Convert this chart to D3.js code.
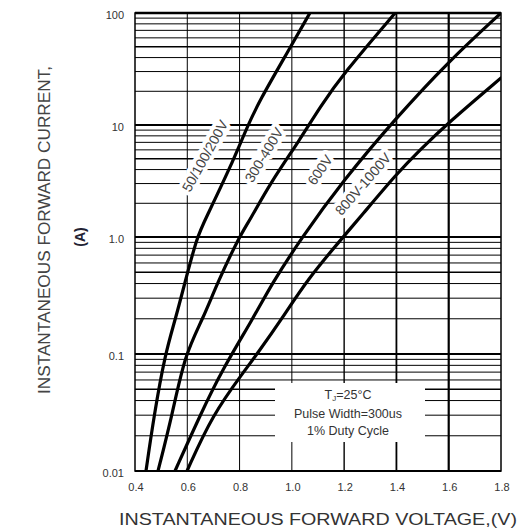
<!DOCTYPE html>
<html>
<head>
<meta charset="utf-8">
<script src="https://cdn.jsdelivr.net/npm/d3@7"></script>
<style>
  html, body { margin: 0; padding: 0; background: #fff; }
  svg { display: block; font-family: "Liberation Sans", Arial, sans-serif; }
</style>
</head>
<body>
<svg id="chart" width="520" height="530"></svg>
<script>
// forward voltage (V) / forward current (A)
var series = ["50/100/200V", "300-400V", "600V", "800V-1000V"]

var curve50_200 = [[0.442,0.01],[0.473,0.03],[0.515,0.1],[0.555,0.2],[0.59,0.4],[0.637,1.0],[0.668,1.42],[0.765,4.2],[0.832,10],[0.878,16.7],[0.966,38],[1.069,100]]
var curve300_400 = [[0.488,0.01],[0.542,0.03],[0.591,0.1],[0.66,0.2],[0.714,0.4],[0.798,1.0],[0.84,1.42],[0.916,3.0],[1.031,7.4],[1.108,14.5],[1.196,28.5],[1.395,100]]
var curve600 = [[0.553,0.01],[0.649,0.03],[0.733,0.073],[0.851,0.2],[0.924,0.4],[1.031,0.94],[1.196,3.2],[1.402,11.8],[1.597,36.5],[1.8,100]]
var curve800_1000 = [[0.599,0.01],[0.695,0.03],[0.821,0.073],[0.867,0.1],[0.962,0.2],[1.058,0.43],[1.196,1.0],[1.261,1.5],[1.402,3.7],[1.49,6.0],[1.597,10.4],[1.8,26.3]]

var xTicks = [0.4, 0.6, 0.8, 1.0, 1.2, 1.4, 1.6, 1.8]
var xTickLabels = ["0.4", "0.6", "0.8", "1.0", "1.2", "1.4", "1.6", "1.8"]
var yTicks = [0.01, 0.1, 1, 10, 100]
var yTickLabels = ["0.01", "0.1", "1.0", "10", "100"]
var noteLines = ["Pulse Width=300us", "1% Duty Cycle"]

var svg = d3.select("#chart")
// note: "top" is taken by window.top, hence the prefix
var plotLeft = 135, plotRight = 501, plotTop = 13, plotBottom = 471

var x = d3.scaleLinear().domain([0.4, 1.8]).range([plotLeft, plotRight])
// the scanned sheet has slightly uneven decades, so the log scale is piecewise
var y = d3.scaleLog().domain(yTicks).range([plotBottom, 354, 237, 125, plotTop])

// horizontal grid: every 1..9 step inside each decade
var hLines = []
yTicks.slice(0, -1).forEach(function(d){
  for (var k = 1; k < 10; k++) hLines.push({v: d * k, k: k})
})
hLines.push({v: 100, k: 1})

var grid = svg.append("g").attr("stroke", "#000").attr("fill", "none")

grid.selectAll("line.h").data(hLines).enter().append("line")
  .attr("class", "h")
  .attr("x1", plotLeft).attr("x2", plotRight)
  .attr("y1", function(d){ return y(d.v) })
  .attr("y2", function(d){ return y(d.v) })
  .attr("stroke-width", function(d){ return d.k == 1 ? 1.8 : (d.k == 5 ? 1.5 : 1) })

grid.selectAll("line.v").data(xTicks.slice(1, -1)).enter().append("line")
  .attr("class", "v")
  .attr("y1", plotTop).attr("y2", plotBottom)
  .attr("x1", function(d){ return x(d) })
  .attr("x2", function(d){ return x(d) })
  .attr("stroke-width", function(d){ return d >= 1.55 ? 2.2 : (d >= 1.35 ? 1.8 : (d >= 1.15 ? 1.4 : 1)) })

// note box knocks out the grid
svg.append("rect")
  .attr("x", 275).attr("y", 383).attr("width", 150).attr("height", 59)
  .attr("fill", "#fff")

svg.append("rect")
  .attr("x", plotLeft).attr("y", plotTop).attr("width", plotRight - plotLeft).attr("height", plotBottom - plotTop)
  .attr("fill", "none").attr("stroke", "#000").attr("stroke-width", 1.5)
svg.append("line")
  .attr("x1", plotLeft).attr("x2", plotRight).attr("y1", plotTop).attr("y2", plotTop)
  .attr("stroke", "#000").attr("stroke-width", 2.6)

// curve labels sit on white so the grid breaks around them
var labelPos = [
  {x: 205, y: 156, a: -61},
  {x: 264, y: 155, a: -59},
  {x: 320, y: 170, a: -55},
  {x: 363, y: 184, a: -49}
]
svg.append("g").selectAll("text").data(series).enter().append("text")
  .attr("transform", function(d, i){ return "translate(" + labelPos[i].x + "," + labelPos[i].y + ") rotate(" + labelPos[i].a + ")" })
  .attr("text-anchor", "middle")
  .attr("dy", "0.35em")
  .attr("font-size", 14)
  .attr("fill", "#444")
  .attr("stroke", "#fff")
  .attr("stroke-width", 8)
  .attr("stroke-linejoin", "round")
  .attr("paint-order", "stroke")
  .text(function(d){ return d })

svg.append("clipPath").attr("id", "plot-clip")
  .append("rect").attr("x", plotLeft).attr("y", plotTop - 1).attr("width", plotRight - plotLeft).attr("height", plotBottom - plotTop + 1)

var line = d3.line()
  .x(function(d){ return x(d[0]) })
  .y(function(d){ return y(d[1]) })
  .curve(d3.curveBasis)

svg.append("g").attr("clip-path", "url(#plot-clip)")
  .selectAll("path").data([curve50_200, curve300_400, curve600, curve800_1000]).enter().append("path")
  .attr("d", line)
  .attr("fill", "none")
  .attr("stroke", "#000")
  .attr("stroke-width", 3.2)
  .attr("stroke-linecap", "round")

// tick labels
svg.append("g").selectAll("text").data(xTicks).enter().append("text")
  .attr("x", function(d){ return x(d) + 1 })
  .attr("y", 491)
  .attr("text-anchor", "middle")
  .attr("font-size", 11)
  .attr("fill", "#333")
  .text(function(d, i){ return xTickLabels[i] })

svg.append("g").selectAll("text").data(yTicks).enter().append("text")
  .attr("x", 124)
  .attr("y", function(d){ return y(d) + 2 })
  .attr("dy", "0.35em")
  .attr("text-anchor", "end")
  .attr("font-size", 11)
  .attr("fill", "#333")
  .text(function(d, i){ return yTickLabels[i] })

// note
var note = svg.append("g").attr("font-size", 12.5).attr("fill", "#333").attr("text-anchor", "middle")
var tj = note.append("text").attr("x", 348).attr("y", 399)
tj.append("tspan").text("T")
tj.append("tspan").attr("font-size", 8).attr("dy", 2).text("J")
tj.append("tspan").attr("dy", -2).text("=25°C")
note.selectAll("text.l").data(noteLines).enter().append("text")
  .attr("class", "l")
  .attr("x", 348)
  .attr("y", function(d, i){ return 418 + i * 17 })
  .text(function(d){ return d })

// axis titles
svg.append("text")
  .attr("transform", "translate(50,230) rotate(-90)")
  .attr("text-anchor", "middle")
  .attr("font-size", 16)
  .attr("textLength", 328)
  .attr("lengthAdjust", "spacingAndGlyphs")
  .attr("fill", "#444")
  .text("INSTANTANEOUS FORWARD CURRENT,")

svg.append("text")
  .attr("transform", "translate(85,237) rotate(-90)")
  .attr("text-anchor", "middle")
  .attr("font-size", 14)
  .attr("font-weight", "bold")
  .attr("fill", "#223")
  .text("(A)")

svg.append("text")
  .attr("x", 318).attr("y", 525)
  .attr("text-anchor", "middle")
  .attr("font-size", 17)
  .attr("textLength", 398)
  .attr("lengthAdjust", "spacingAndGlyphs")
  .attr("fill", "#333")
  .text("INSTANTANEOUS FORWARD VOLTAGE,(V)")
</script>
</body>
</html>
